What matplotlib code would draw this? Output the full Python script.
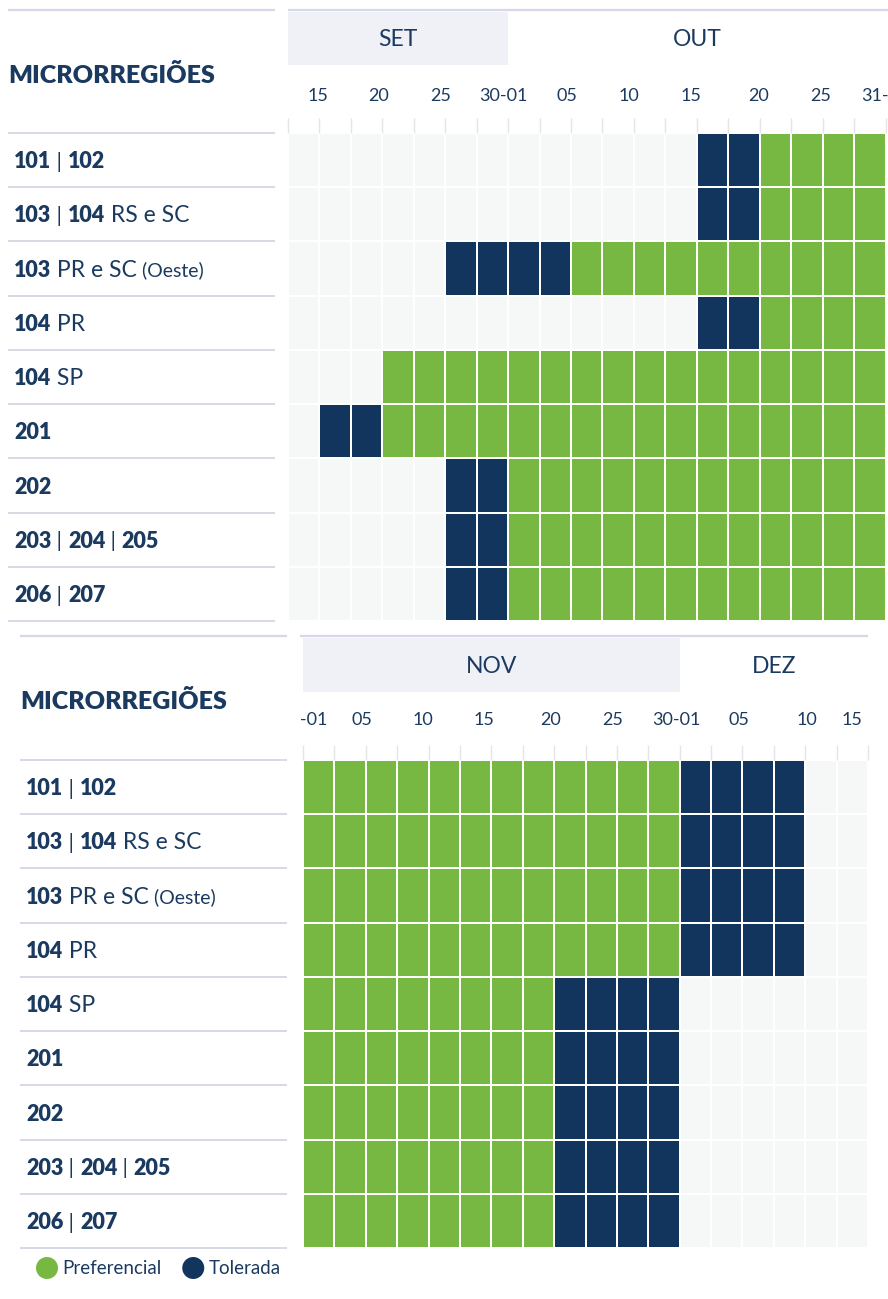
import matplotlib
matplotlib.use("Agg")
import matplotlib.pyplot as plt
import matplotlib.transforms as mtransforms
from matplotlib.colors import ListedColormap
from matplotlib.patches import Rectangle, Circle
import numpy as np

# ---------------- data ----------------
region_codes = ["101 | 102", "103 | 104", "103", "104", "104", "201", "202",
                "203 | 204 | 205", "206 | 207"]
region_suffix = ["", " RS e SC", " PR e SC", " PR", " SP", "", "", "", ""]
region_note = ["", "", " (Oeste)", "", "", "", "", "", ""]

# 0 = sem indicação, 1 = Preferencial, 2 = Tolerada  (one char per period)
top_cells = [
    "0000000000000221111",
    "0000000000000221111",
    "0000022221111111111",
    "0000000000000221111",
    "0001111111111111111",
    "0221111111111111111",
    "0000022111111111111",
    "0000022111111111111",
    "0000022111111111111",
]
bottom_cells = [
    "111111111111222200",
    "111111111111222200",
    "111111111111222200",
    "111111111111222200",
    "111111112222000000",
    "111111112222000000",
    "111111112222000000",
    "111111112222000000",
    "111111112222000000",
]

top_months = ["SET", "OUT"]
top_month_periods = [7, 12]
bottom_months = ["NOV", "DEZ"]
bottom_month_periods = [12, 6]

top_tick_labels = ["15", "20", "25", "30-01", "05", "10", "15", "20", "25", "31-01"]
top_tick_pos = [0.95, 2.88, 4.85, 6.85, 8.88, 10.85, 12.8, 14.95, 16.95, 19.0]
bottom_tick_labels = ["30-01", "05", "10", "15", "20", "25", "30-01", "05", "10", "15"]
bottom_tick_pos = [0.0, 1.88, 3.82, 5.78, 7.88, 9.85, 11.9, 13.9, 16.05, 17.5]

legend_labels = ["Preferencial", "Tolerada"]

# ---------------- style ----------------
W, H = 888, 1299
NAVY = "#12355e"
GREEN = "#77b843"
EMPTY = "#f6f7f7"
TEXT = "#1b3a60"
BAND = "#f0f1f7"
LINE = "#d6d8e7"
TICK = "#e4e5eb"
FONT = ["Lato", "DejaVu Sans"]

plt.rcParams["font.family"] = FONT

fig = plt.figure(figsize=(W / 100, H / 100), dpi=100)
fig.patch.set_facecolor("white")
ov = fig.add_axes([0, 0, 1, 1])
ov.set_xlim(0, W)
ov.set_ylim(H, 0)
ov.axis("off")
ov.set_zorder(5)
ov.patch.set_alpha(0)

renderer = fig.canvas.get_renderer()


def pax(x0, y0, x1, y1):
    return fig.add_axes([x0 / W, 1 - y1 / H, (x1 - x0) / W, (y1 - y0) / H])


cmap = ListedColormap([EMPTY, GREEN, NAVY])


def panel(cells, gx0, gy0, gx1, gy1, lx0, lx1, label_x, title_y, tick_y,
          months, month_periods, band_y0, band_y1, top_line_y, right_line_x1,
          tick_labels, tick_pos, clip_left):
    grid = np.array([[int(c) for c in row] for row in cells])
    nr, nc = grid.shape
    ax = pax(gx0, gy0, gx1, gy1)
    ax.pcolormesh(grid, cmap=cmap, vmin=-0.5, vmax=2.5,
                  edgecolors="white", linewidth=1.1)
    ax.set_xlim(0, nc)
    ax.set_ylim(nr, 0)
    for s in ax.spines.values():
        s.set_visible(False)
    ax.set_yticks([])
    ax.set_xticks(np.arange(nc + 1))
    ax.tick_params(axis="x", top=True, bottom=False, labeltop=False,
                   labelbottom=False, length=10.5, width=1.0, color=TICK,
                   direction="out")

    bx = mtransforms.blended_transform_factory(ax.transData, ov.transData)
    by = mtransforms.blended_transform_factory(ov.transData, ax.transData)

    # month bands
    start = 0
    for i, (m, n) in enumerate(zip(months, month_periods)):
        if i % 2 == 0:
            ov.add_patch(Rectangle((start, band_y0), n, band_y1 - band_y0,
                                   transform=bx, facecolor=BAND,
                                   edgecolor="none", zorder=0))
        ov.text(start + n / 2, (band_y0 + band_y1) / 2 + 1, m, transform=bx,
                ha="center", va="center", fontsize=16.5, color=TEXT)
        start += n

    # top lines
    ov.plot([lx0, lx1], [top_line_y, top_line_y], color=LINE, lw=1.6,
            solid_capstyle="butt")
    ov.plot([lx1 + 13, right_line_x1], [top_line_y, top_line_y], color=LINE,
            lw=1.6, solid_capstyle="butt")

    # tick labels
    clipbox = mtransforms.TransformedBbox(
        mtransforms.Bbox.from_extents(clip_left / W, 0, 1, 1), fig.transFigure)
    for lab, p in zip(tick_labels, tick_pos):
        t = ov.text(p, tick_y, lab, transform=bx, ha="center", va="center",
                    fontsize=13, color=TEXT)
        t.set_clip_on(True)
        t.set_clip_box(clipbox)

    # title
    ov.text(label_x - 6, title_y, "MICRORREGIÕES", ha="left", va="center",
            fontsize=18, fontweight="heavy", color=TEXT)

    # row separators
    for r in range(nr + 1):
        ov.plot([lx0, lx1], [r, r], transform=by, color=LINE, lw=1.4,
                solid_capstyle="butt")

    # row labels
    for r in range(nr):
        segs = []
        parts = region_codes[r].split(" | ")
        for k, p in enumerate(parts):
            if k > 0:
                segs.append((" | ", "normal", 15.5))
            segs.append((p, "heavy", 15.5))
        if region_suffix[r]:
            segs.append((region_suffix[r], "normal", 16.5))
        if region_note[r]:
            segs.append((region_note[r], "normal", 14))
        x = label_x
        for txt, wt, fs in segs:
            t = ov.text(x, r + 0.53, txt, transform=by, ha="left", va="center",
                        fontsize=fs, fontweight=wt, color=TEXT)
            bb = t.get_window_extent(renderer)
            x = bb.x1
    return ax


panel(top_cells, 288, 133, 885.5, 621, 8, 275, 14, 75, 96,
      top_months, top_month_periods, 12, 65, 10, 888,
      top_tick_labels, top_tick_pos, 0)
panel(bottom_cells, 303, 760, 868, 1248, 20, 287, 26, 701, 720,
      bottom_months, bottom_month_periods, 638, 692, 636, 868,
      bottom_tick_labels, bottom_tick_pos, 300)

# legend
lx = 47
for lab, col in zip(legend_labels, [GREEN, NAVY]):
    ov.add_patch(Circle((lx, 1268), 11, facecolor=col, edgecolor="none"))
    t = ov.text(lx + 15, 1269, lab, ha="left", va="center", fontsize=13.5,
                color=TEXT)
    bb = t.get_window_extent(renderer)
    lx = bb.x1 + 32

fig.savefig("out.png", dpi=100)
